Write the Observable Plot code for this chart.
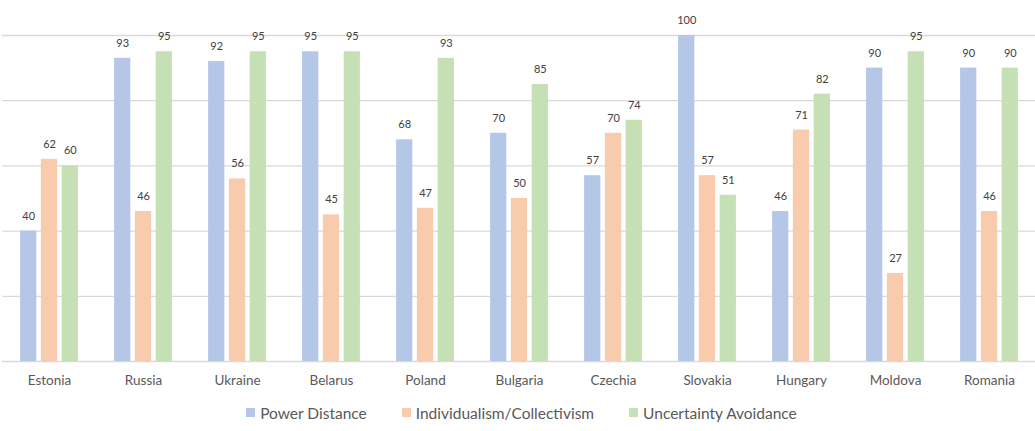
<!DOCTYPE html>
<html>
<head>
<meta charset="utf-8">
<script src="https://cdn.jsdelivr.net/npm/d3@7"></script>
<script src="https://cdn.jsdelivr.net/npm/@observablehq/plot@0.6"></script>
<style>
  html, body { margin: 0; padding: 0; background: #fff; }
  #chart { width: 1035px; }
  .legend { display: flex; justify-content: center; align-items: center; gap: 35px;
            font-family: Lato, "Open Sans", sans-serif; font-size: 15.5px; color: #595959;
            height: 35px; margin-left: 8px; margin-top: -1px; }
  .legend .item { display: flex; align-items: center; gap: 5px; }
  .legend .sw { width: 9px; height: 9px; display: inline-block; }
</style>
</head>
<body>
<div id="chart"></div>
<script>
const countries = ["Estonia","Russia","Ukraine","Belarus","Poland","Bulgaria","Czechia","Slovakia","Hungary","Moldova","Romania"];
const seriesNames = ["Power Distance","Individualism/Collectivism","Uncertainty Avoidance"];
const seriesColors = ["#b4c7e7","#f8cbad","#c5e0b4"];
const powerDistance = [40,93,92,95,68,70,57,100,46,90,90];
const individualism = [62,46,56,45,47,50,70,57,71,27,46];
const uncertaintyAvoidance = [60,95,95,95,93,85,74,51,82,95,90];
const yTicks = [0,20,40,60,80,100];

const seriesValues = [powerDistance, individualism, uncertaintyAvoidance];
const rows = [];
countries.forEach((c, i) => {
  seriesNames.forEach((s, j) => rows.push({country: c, series: s, value: seriesValues[j][i]}));
});

const chart = Plot.plot({
  width: 1035,
  height: 396,
  marginLeft: 2,
  marginRight: -1,
  marginTop: 35,
  marginBottom: 35,
  style: {fontFamily: "Lato, 'Open Sans', sans-serif", fontSize: "13.5px", color: "#595959", background: "#fff"},
  fx: {domain: countries, padding: 0, round: false, label: null, tickSize: 0, tickPadding: 14, axis: "bottom"},
  x: {domain: seriesNames, paddingInner: 0.22, paddingOuter: 0.87, round: false, axis: null},
  y: {domain: [0, 100], axis: null},
  color: {domain: seriesNames, range: seriesColors},
  marks: [
    Plot.ruleY(yTicks, {stroke: "#d9d9d9", strokeWidth: 1.3}),
    Plot.barY(rows, {fx: "country", x: "series", y: "value", fill: "series"}),
    Plot.text(rows, {fx: "country", x: "series", y: "value", text: d => String(d.value),
      dy: -15, fontSize: 11, fill: "#404040"})
  ]
});
document.getElementById("chart").appendChild(chart);

const legend = document.createElement("div");
legend.className = "legend";
seriesNames.forEach((s, i) => {
  const item = document.createElement("span");
  item.className = "item";
  const sw = document.createElement("span");
  sw.className = "sw";
  sw.style.background = seriesColors[i];
  const t = document.createElement("span");
  t.textContent = s;
  item.appendChild(sw); item.appendChild(t);
  legend.appendChild(item);
});
document.getElementById("chart").appendChild(legend);
</script>
</body>
</html>
